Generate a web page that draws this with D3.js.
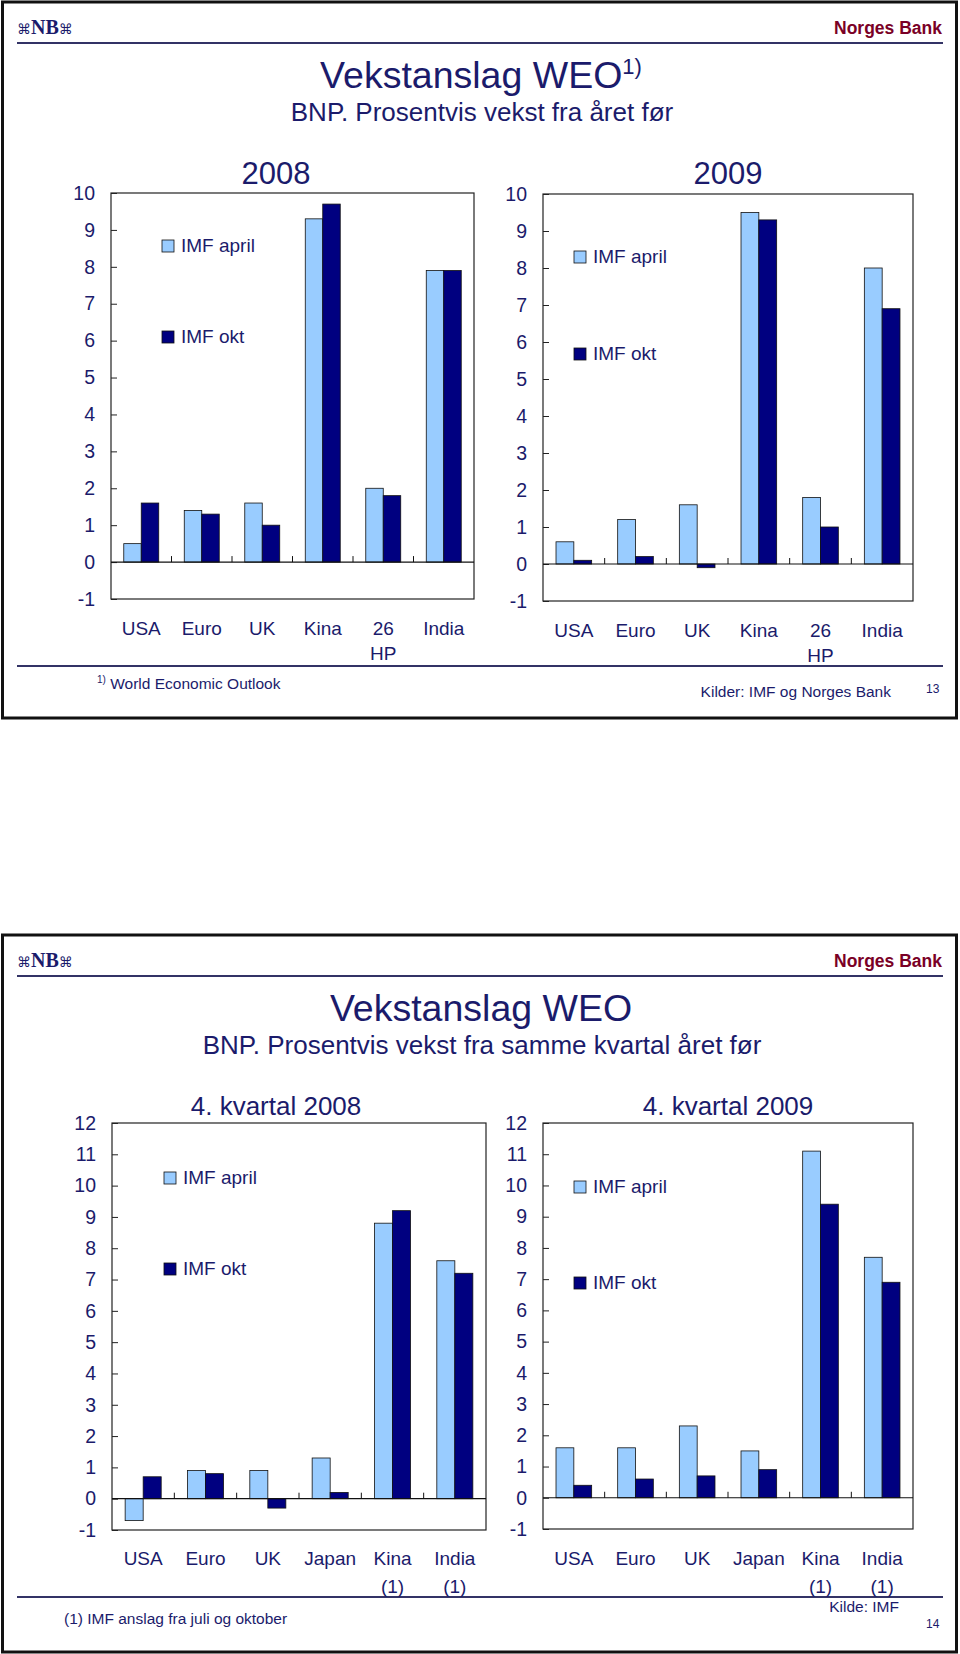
<!DOCTYPE html>
<html>
<head>
<meta charset="utf-8">
<script src="https://cdn.jsdelivr.net/npm/d3@7"></script>
<style>
  body { margin: 0; background: #fff; }
  svg { display: block; font-family: 'Liberation Sans', Arial, sans-serif; }
</style>
</head>
<body>
<svg width="960" height="1654"></svg>
<script>
// slide 13: annual growth
const countries = ['USA', 'Euro', 'UK', 'Kina', '26 HP', 'India']
const april2008 = [0.5, 1.4, 1.6, 9.3, 2.0, 7.9]
const okt2008 = [1.6, 1.3, 1.0, 9.7, 1.8, 7.9]
const april2009 = [0.6, 1.2, 1.6, 9.5, 1.8, 8.0]
const okt2009 = [0.1, 0.2, -0.1, 9.3, 1.0, 6.9]
const yTicksAnnual = [-1, 0, 1, 2, 3, 4, 5, 6, 7, 8, 9, 10]

// slide 14: 4th quarter growth
const countriesQ4 = ['USA', 'Euro', 'UK', 'Japan', 'Kina (1)', 'India (1)']
const aprilQ4_2008 = [-0.7, 0.9, 0.9, 1.3, 8.8, 7.6]
const oktQ4_2008 = [0.7, 0.8, -0.3, 0.2, 9.2, 7.2]
const aprilQ4_2009 = [1.6, 1.6, 2.3, 1.5, 11.1, 7.7]
const oktQ4_2009 = [0.4, 0.6, 0.7, 0.9, 9.4, 6.9]
const yTicksQ4 = [-1, 0, 1, 2, 3, 4, 5, 6, 7, 8, 9, 10, 11, 12]

const seriesNames = ['IMF april', 'IMF okt']
const seriesColors = ['#99ccff', '#000080']

const NAVY = '#1b1b6b'
const svg = d3.select('svg')

const drawSlide = (s) => {
  // frame
  svg.append('rect')
    .attr('x', 2.5).attr('y', s.top)
    .attr('width', 954).attr('height', s.bottom - s.top)
    .attr('fill', 'none').attr('stroke', '#111').attr('stroke-width', 3)

  // logo
  const logo = svg.append('text')
    .attr('x', 17).attr('y', s.top + 32)
    .attr('fill', NAVY)
  logo.append('tspan').attr('font-family', 'DejaVu Sans').attr('font-size', 14).text('⌘')
  logo.append('tspan').attr('font-family', "'Liberation Serif', serif").attr('font-weight', 'bold').attr('font-size', 20).text('NB')
  logo.append('tspan').attr('font-family', 'DejaVu Sans').attr('font-size', 14).text('⌘')

  svg.append('text')
    .attr('x', 942).attr('y', s.top + 32)
    .attr('text-anchor', 'end')
    .attr('font-size', 17.5).attr('font-weight', 'bold')
    .attr('fill', '#7a0026')
    .text('Norges Bank')

  svg.append('line')
    .attr('x1', 17).attr('x2', 943)
    .attr('y1', s.top + 41).attr('y2', s.top + 41)
    .attr('stroke', '#333366').attr('stroke-width', 2)

  // titles
  const t = svg.append('text')
    .attr('x', 481).attr('y', s.top + 86)
    .attr('text-anchor', 'middle')
    .attr('font-size', 37.5).attr('fill', NAVY)
  t.append('tspan').text('Vekstanslag WEO')
  if (s.titleSup) {
    t.append('tspan').attr('font-size', 22).attr('dy', -14).text(s.titleSup)
  }
  svg.append('text')
    .attr('x', 482).attr('y', s.top + 119)
    .attr('text-anchor', 'middle')
    .attr('font-size', 26).attr('fill', NAVY)
    .text(s.subtitle)

  // footer
  svg.append('line')
    .attr('x1', 17).attr('x2', 943)
    .attr('y1', s.footerLine).attr('y2', s.footerLine)
    .attr('stroke', '#333366').attr('stroke-width', 2)

  const note = svg.append('text')
    .attr('x', s.note.x).attr('y', s.note.y)
    .attr('font-size', 15.5).attr('fill', NAVY)
  if (s.note.sup) {
    note.append('tspan').attr('font-size', 10).attr('dy', -6).text(s.note.sup)
    note.append('tspan').attr('dy', 6).text(' ' + s.note.text)
  } else {
    note.text(s.note.text)
  }

  svg.append('text')
    .attr('x', s.source.x).attr('y', s.source.y)
    .attr('text-anchor', 'end')
    .attr('font-size', 15.5).attr('fill', NAVY)
    .text(s.source.text)

  svg.append('text')
    .attr('x', 926).attr('y', s.page.y)
    .attr('font-size', 12).attr('fill', NAVY)
    .text(s.page.text)
}

const drawPanel = (p) => {
  const g = svg.append('g')
  const x = d3.scaleBand().domain(p.cats).range([p.x0, p.x1])
  const xs = d3.scaleBand().domain(seriesNames).range([0, x.bandwidth()]).paddingOuter(0.73)
  const y = d3.scaleLinear().domain(d3.extent(p.ticks)).range([p.bottom, p.top])

  g.append('text')
    .attr('x', p.titleX).attr('y', p.titleY)
    .attr('text-anchor', 'middle')
    .attr('font-size', p.titleSize).attr('fill', NAVY)
    .text(p.title)

  // plot frame
  g.append('rect')
    .attr('x', p.x0).attr('y', y(p.ticks[p.ticks.length - 1]))
    .attr('width', p.x1 - p.x0)
    .attr('height', y(p.ticks[0]) - y(p.ticks[p.ticks.length - 1]))
    .attr('fill', 'none').attr('stroke', '#222').attr('stroke-width', 1.2)

  const yAxis = g.append('g')
    .attr('transform', `translate(${p.x0},0)`)
    .call(d3.axisLeft(y).tickValues(p.ticks).tickSize(-6).tickPadding(16).tickFormat(d => String(d)))
  yAxis.select('.domain').remove()
  yAxis.selectAll('line').attr('stroke', '#222')
  yAxis.selectAll('text')
    .attr('font-size', 19.5).attr('font-family', "'Liberation Sans', Arial, sans-serif")
    .attr('fill', NAVY)

  // bars
  const series = [p.april, p.okt]
  series.forEach((vals, si) => {
    g.append('g').selectAll('rect')
      .data(vals)
      .join('rect')
      .attr('x', (d, i) => x(p.cats[i]) + xs(seriesNames[si]))
      .attr('y', d => y(Math.max(0, d)))
      .attr('width', xs.bandwidth())
      .attr('height', d => Math.abs(y(d) - y(0)))
      .attr('fill', seriesColors[si])
      .attr('stroke', '#111').attr('stroke-width', 0.8)
  })

  // zero line and category ticks
  g.append('line')
    .attr('x1', p.x0).attr('x2', p.x1)
    .attr('y1', y(0)).attr('y2', y(0))
    .attr('stroke', '#111').attr('stroke-width', 1.2)
  g.append('g').selectAll('line')
    .data(p.cats.slice(1))
    .join('line')
    .attr('x1', d => x(d)).attr('x2', d => x(d))
    .attr('y1', y(0) - 6).attr('y2', y(0))
    .attr('stroke', '#111')

  // category labels (second word on its own line)
  const labels = g.append('g').selectAll('text')
    .data(p.cats)
    .join('text')
    .attr('x', d => x(d) + x.bandwidth() / 2)
    .attr('y', p.labelY)
    .attr('text-anchor', 'middle')
    .attr('font-size', 19).attr('fill', NAVY)
  labels.each(function (d) {
    const parts = d.split(' ')
    const el = d3.select(this)
    const cx = x(d) + x.bandwidth() / 2
    parts.forEach((part, i) => {
      el.append('tspan')
        .attr('x', cx)
        .attr('dy', i === 0 ? 0 : p.lineGap)
        .text(part)
    })
  })

  // legend
  seriesNames.forEach((name, si) => {
    const ly = p.legend.ys[si]
    g.append('rect')
      .attr('x', p.legend.x).attr('y', ly)
      .attr('width', 12).attr('height', 12)
      .attr('fill', seriesColors[si])
      .attr('stroke', '#111').attr('stroke-width', 0.8)
    g.append('text')
      .attr('x', p.legend.x + 19).attr('y', ly + 12)
      .attr('font-size', 19).attr('fill', NAVY)
      .text(name)
  })
}

//#region slide 13
drawSlide({
  top: 2, bottom: 718,
  titleSup: '1)',
  subtitle: 'BNP. Prosentvis vekst fra året før',
  footerLine: 666,
  note: { x: 97, y: 689, sup: '1)', text: 'World Economic Outlook' },
  source: { x: 891, y: 697, text: 'Kilder: IMF og Norges Bank' },
  page: { y: 693, text: '13' }
})

drawPanel({
  title: '2008', titleX: 276, titleY: 184, titleSize: 31,
  cats: countries, april: april2008, okt: okt2008, ticks: yTicksAnnual,
  x0: 111, x1: 474, top: 193, bottom: 599,
  labelY: 635, lineGap: 25,
  legend: { x: 162, ys: [240, 331] }
})

drawPanel({
  title: '2009', titleX: 728, titleY: 184, titleSize: 31,
  cats: countries, april: april2009, okt: okt2009, ticks: yTicksAnnual,
  x0: 543, x1: 913, top: 194, bottom: 601,
  labelY: 637, lineGap: 25,
  legend: { x: 574, ys: [251, 348] }
})
//#endregion

//#region slide 14
drawSlide({
  top: 935, bottom: 1652,
  subtitle: 'BNP. Prosentvis vekst fra samme kvartal året før',
  footerLine: 1597,
  note: { x: 64, y: 1624, text: '(1) IMF anslag fra juli og oktober' },
  source: { x: 899, y: 1612, text: 'Kilde: IMF' },
  page: { y: 1628, text: '14' }
})

drawPanel({
  title: '4. kvartal 2008', titleX: 276, titleY: 1115, titleSize: 26,
  cats: countriesQ4, april: aprilQ4_2008, okt: oktQ4_2008, ticks: yTicksQ4,
  x0: 112, x1: 486, top: 1123, bottom: 1530,
  labelY: 1565, lineGap: 28,
  legend: { x: 164, ys: [1172, 1263] }
})

drawPanel({
  title: '4. kvartal 2009', titleX: 728, titleY: 1115, titleSize: 26,
  cats: countriesQ4, april: aprilQ4_2009, okt: oktQ4_2009, ticks: yTicksQ4,
  x0: 543, x1: 913, top: 1123, bottom: 1529,
  labelY: 1565, lineGap: 28,
  legend: { x: 574, ys: [1181, 1277] }
})
//#endregion
</script>
</body>
</html>
